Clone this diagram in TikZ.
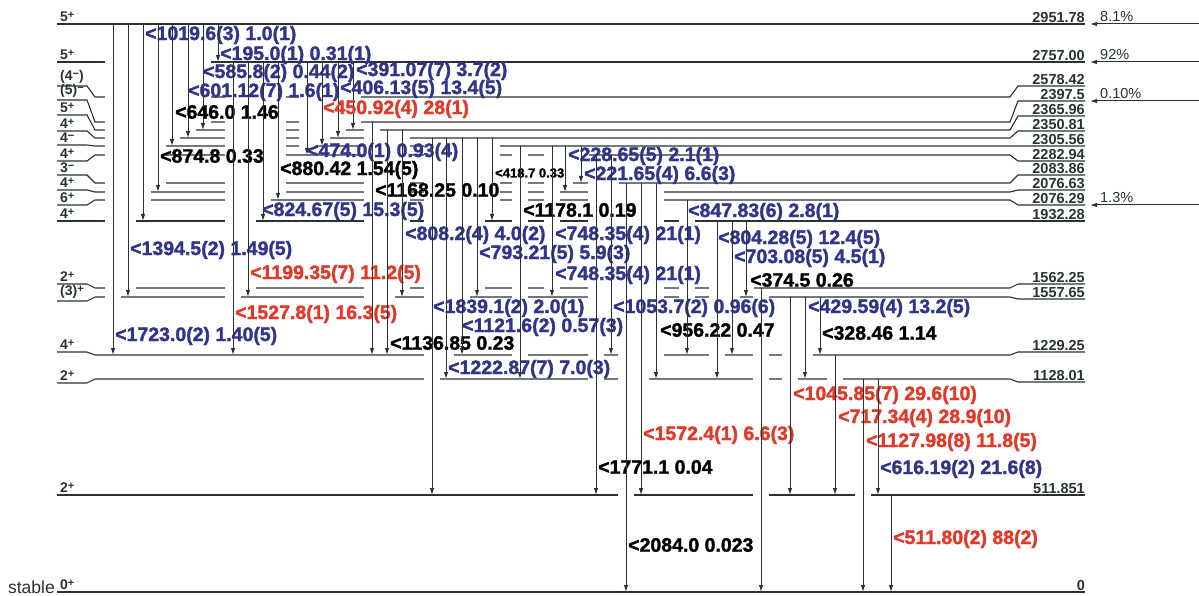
\documentclass[tikz,border=0pt]{standalone}
\usepackage{fontspec}
\setmainfont{Liberation Sans}
\newfontfamily\heavyfont[BoldFeatures={FakeBold=1.6}]{Liberation Sans}
\usetikzlibrary{arrows.meta}
\definecolor{gblue}{RGB}{48,52,138}
\definecolor{gred}{RGB}{226,56,40}
\definecolor{lvgray}{RGB}{40,50,50}
\newcommand{\deflv}[2]{\expandafter\def\csname lv#1\endcsname{#2}}
\newcommand{\lv}[1]{\csname lv#1\endcsname}
\newcommand{\up}[1]{\raisebox{0.25em}{\fontsize{11}{11}\selectfont #1}}
% level heights (picture units, downwards)
\deflv{2951}{24}\deflv{2757}{62}\deflv{2578}{97}\deflv{2397}{122}
\deflv{2365}{130}\deflv{2350}{138}\deflv{2305}{146}\deflv{2282}{155}
\deflv{2083}{183}\deflv{2076a}{192}\deflv{2076b}{200}\deflv{1932}{221}
\deflv{1562}{288}\deflv{1557}{297}\deflv{1229}{355}\deflv{1128}{379}
\deflv{511}{495}\deflv{0}{592}
% x / from / to / text / colour / size / label x / label y
\newcommand{\gammas}{%
143/2951/1932/{<1019.6(3) 1.0(1)}/gblue/19.5/145/35,
218/2951/2757/{<195.0(1) 0.31(1)}/gblue/19.5/220/55,
203/2951/2365/{<585.8(2) 0.44(2)}/gblue/19.5/203/73,
188/2951/2350/{<601.12(7) 1.6(1)}/gblue/19.5/188/92,
172/2951/2305/{<646.0 1.46}/black/19.5/175/112,
158/2951/2076a/{<874.8 0.33}/black/19.5/160/156,
128/2951/1557/{<1394.5(2) 1.49(5)}/gblue/19.5/130/250,
113/2951/1229/{<1723.0(2) 1.40(5)}/gblue/19.5/115/336,
353/2757/2365/{<391.07(7) 3.7(2)}/gblue/19.5/356/71,
338/2757/2350/{<406.13(5) 13.4(5)}/gblue/19.5/340/89,
322/2757/2305/{<450.92(4) 28(1)}/gred/19.5/323/109,
307/2757/2282/{<474.0(1) 0.93(4)}/gblue/19.5/307/152,
278/2757/2076b/{<880.42 1.54(5)}/black/19.5/280/170,
263/2757/1932/{<824.67(5) 15.3(5)}/gblue/19.5/262/211,
248/2757/1557/{<1199.35(7) 11.2(5)}/gred/19.5/250/274,
233/2757/1229/{<1527.8(1) 16.3(5)}/gred/19.5/235/314,
372/2397/1229/{<1168.25 0.10}/black/19.5/375/190,
387/2365/1229/{<1136.85 0.23}/black/19.5/390/343,
402/2365/1557/{<808.2(4) 4.0(2)}/gblue/19.5/405/235,
432/2350/511/{<1839.1(2) 2.0(1)}/gblue/19.5/433/308,
446/2350/1128/{<1222.87(7) 7.0(3)}/gblue/19.5/448/369,
462/2350/1229/{<1121.6(2) 0.57(3)}/gblue/19.5/462/327,
477/2350/1557/{<793.21(5) 5.9(3)}/gblue/19.5/479/254,
492/2350/1932/{<418.7 0.33}/black/13/495/173,
520/2305/1128/{<1178.1 0.19}/black/19.5/523/210,
552/2305/1557/{<748.35(4) 21(1)}/gblue/19.5/555/235,
565/2305/2076a/{<228.65(5) 2.1(1)}/gblue/19.5/568/156,
581/2305/2083/{<221.65(4) 6.6(3)}/gblue/19.5/584/175,
596/2282/511/{<1771.1 0.04}/black/19.5/598/467,
611/2282/1229/{<1053.7(2) 0.96(6)}/gblue/19.5/613/308,
626/2083/0/{<2084.0 0.023}/black/19.5/628/545,
641/2083/511/{<1572.4(1) 6.6(3)}/gred/19.5/643/435,
656/2083/1128/{<956.22 0.47}/black/19.5/660/330,
687/2076b/1229/{<847.83(6) 2.8(1)}/gblue/19.5/688/212,
717/1932/1128/{<804.28(5) 12.4(5)}/gblue/19.5/718/239,
732/1932/1229/{<703.08(5) 4.5(1)}/gblue/19.5/734/258,
746/1932/1557/{<374.5 0.26}/black/19.5/750/280,
761/1562/0/{}/black/19.5/763/420,
790/1557/511/{<1045.85(7) 29.6(10)}/gred/19.5/793/395,
805/1557/1128/{<429.59(4) 13.2(5)}/gblue/19.5/808/308,
820/1557/1229/{<328.46 1.14}/black/19.5/822/333,
835/1229/511/{<717.34(4) 28.9(10)}/gred/19.5/838/418,
863/1128/0/{<1127.98(8) 11.8(5)}/gred/19.5/866/442,
878/1128/511/{<616.19(2) 21.6(8)}/gblue/19.5/880/469,
891/511/0/{<511.80(2) 88(2)}/gred/19.5/893/539}

\begin{document}
\begin{tikzpicture}[x=1pt,y=-1pt,
  level/.style={draw=lvgray,line width=1.1pt},
  gline/.style={draw=lvgray,line width=1pt,-{Latex[length=7pt,width=4.5pt]}},
  glab/.style={anchor=west,inner sep=0pt},
  spinlab/.style={anchor=south west,inner sep=0pt,text=lvgray,
    font=\fontsize{14}{14}\selectfont\bfseries},
  elab/.style={anchor=south east,inner sep=0pt,text=lvgray,
    font=\fontsize{14.5}{15}\selectfont\bfseries},
  feedlab/.style={anchor=south west,inner sep=0pt,text=lvgray,
    font=\fontsize{14.5}{15}\selectfont}]
\useasboundingbox (0,0) rectangle (1199,596);

% levels
\foreach \n/\yl/\yr/\spn/\en in {2951/24/24/{5\up{+}}/2951.78,
  2757/62/62/{5\up{+}}/2757.00, 2578/86/86/{(4\up{−})}/2578.42,
  2397/100/101/{(5)\up{−}}/2397.5, 2365/115/116/{5\up{+}}/2365.96,
  2350/131/131/{4\up{+}}/2350.81, 2305/145/146/{4\up{−}}/2305.56,
  2282/161/161/{4\up{+}}/2282.94, 2083/175/175/{3\up{−}}/2083.86,
  2076a/190/190/{4\up{+}}/2076.63, 2076b/205/205/{6\up{+}}/2076.29,
  1932/221/221/{4\up{+}}/1932.28, 1562/284/284/{2\up{+}}/1562.25,
  1557/301/299/{(3)\up{+}}/1557.65, 1229/352/352/{4\up{+}}/1229.25,
  1128/383/382/{2\up{+}}/1128.01, 511/495/495/{2\up{+}}/511.851,
  0/592/592/{0\up{+}}/0}{
  \draw[level] (57,\yl) -- (87,\yl) -- (95,\lv{\n}) -- (1010,\lv{\n})
    -- (1018,\yr) -- (1085,\yr);
  \node[spinlab] (s\n) at (60,\yl-2) {\spn};
  \node[elab] (e\n) at (1085,\yr-1.5) {\en};
}
\node[anchor=south east,inner sep=0pt,text=lvgray,
  font=\fontsize{17.5}{18}\selectfont] (stab) at (55,594) {stable};

% gaps where a transition passes a level
\foreach \x/\a/\b/\t/\c/\f/\lx/\ly in \gammas
  \fill[white] (\x-8,\lv{\a}+1.5) rectangle (\x+8,\lv{\b}-1.5);

% transitions
\foreach \x/\a/\b/\t/\c/\f/\lx/\ly in \gammas {
  \draw[gline] (\x,\lv{\a}) -- (\x,\lv{\b});
  \node[glab,text=\c,font=\fontsize{\f}{\f}\selectfont\heavyfont\bfseries] (g\x) at (\lx,\ly) {\t};
}
\node[glab,text=gblue,font=\fontsize{19.5}{20}\selectfont\heavyfont\bfseries] (g552b) at (555,275) {<748.35(4) 21(1)};

% feeding
\foreach \n/\yy/\pc in {2951/24/8.1\%, 2757/62/92\%, 2397/101/0.10\%, 2076b/205/1.3\%}{
  \coordinate (f\n) at (1199,\yy);
  \coordinate (t\n) at (1090,\yy);
  \draw[gline] (f\n) -- (t\n);
  \node[feedlab] (p\n) at (1100,\yy-2) {\pc};
}
\end{tikzpicture}
\end{document}
